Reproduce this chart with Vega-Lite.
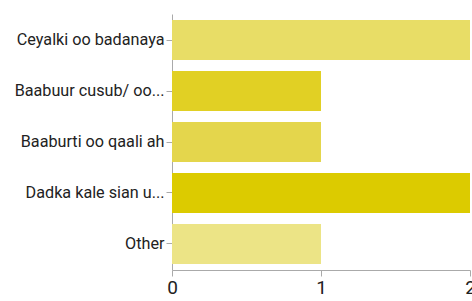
{
  "$schema": "https://vega.github.io/schema/vega-lite/v6.json",
  "width": 298,
  "height": 256,
  "autosize": {"type": "none"},
  "padding": {"left": 172, "top": 14, "right": 2, "bottom": 31},
  "background": "white",
  "data": {
    "values": [
      {"label": "Ceyalki oo badanaya", "count": 2},
      {"label": "Baabuur cusub/ oo...", "count": 1},
      {"label": "Baaburti oo qaali ah", "count": 1},
      {"label": "Dadka kale sian u...", "count": 2},
      {"label": "Other", "count": 1}
    ]
  },
  "mark": {"type": "bar"},
  "encoding": {
    "y": {
      "field": "label",
      "type": "nominal",
      "sort": null,
      "scale": {"paddingInner": 0.216, "paddingOuter": 0.118},
      "axis": {
        "title": null,
        "labelFont": "Roboto",
        "labelFontSize": 16.2,
        "labelColor": "#222222",
        "labelPadding": 2,
        "labelLimit": 200,
        "tickColor": "#aaaaaa",
        "tickSize": 6,
        "domainColor": "#aaaaaa",
        "domainWidth": 1
      }
    },
    "x": {
      "field": "count",
      "type": "quantitative",
      "scale": {"domain": [0, 2], "nice": false},
      "axis": {
        "title": null,
        "tickCount": 2,
        "grid": false,
        "labelOverlap": false,
        "labelFont": "Roboto",
        "labelFontSize": 19,
        "labelColor": "#222222",
        "labelPadding": 2,
        "tickColor": "#aaaaaa",
        "tickSize": 6,
        "domainColor": "#aaaaaa",
        "labelFlush": false
      }
    },
    "color": {
      "field": "label",
      "type": "nominal",
      "sort": null,
      "legend": null,
      "scale": {
        "domain": ["Ceyalki oo badanaya", "Baabuur cusub/ oo...", "Baaburti oo qaali ah", "Dadka kale sian u...", "Other"],
        "range": ["#e8dd66", "#e1d024", "#e4d64c", "#dccb00", "#ece486"]
      }
    }
  },
  "config": {"view": {"stroke": null}}
}
